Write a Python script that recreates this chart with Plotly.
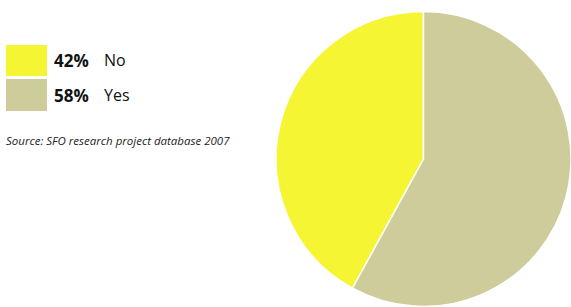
import plotly.graph_objects as go

labels = ["No", "Yes"]
values = [42, 58]
colors = ["#F5F533", "#CDCC9A"]
source = "Source: SFO research project database 2007"

W, H = 571, 307
yes_share = values[1] / sum(values)

fig = go.Figure()
fig.add_trace(go.Pie(
    labels=labels, values=values, sort=False, direction="clockwise",
    rotation=360 * yes_share, marker=dict(colors=colors, line=dict(color="white", width=1.5)),
    textinfo="none", hoverinfo="label+percent", showlegend=False,
    domain=dict(x=[276 / W, 1.0], y=[0, 296 / H]),
))

sw_x0, sw_x1 = 6, 47
rows = [(45, 76), (79, 111)]
for (y0, y1), lab, val, col in zip(rows, labels, values, colors):
    fig.add_shape(type="rect", xref="paper", yref="paper",
                  x0=sw_x0 / W, x1=sw_x1 / W, y0=1 - y1 / H, y1=1 - y0 / H,
                  fillcolor=col, line=dict(width=0), layer="above")
    yc = 1 - ((y0 + y1) / 2) / H
    fig.add_annotation(xref="paper", yref="paper", x=52 / W, y=yc,
                       xanchor="left", yanchor="middle", showarrow=False,
                       text=f"<b>{val}%</b>",
                       font=dict(family="Open Sans", size=17, color="#111"))
    fig.add_annotation(xref="paper", yref="paper", x=102 / W, y=yc,
                       xanchor="left", yanchor="middle", showarrow=False,
                       text=lab, font=dict(family="Open Sans", size=16, color="#111"))

fig.add_annotation(xref="paper", yref="paper", x=4 / W, y=1 - 140 / H,
                   xanchor="left", yanchor="middle", showarrow=False,
                   text=f"<i>{source}</i>",
                   font=dict(family="Open Sans", size=11.5, color="#222"))

fig.update_layout(width=W, height=H, margin=dict(l=0, r=0, t=0, b=0),
                  paper_bgcolor="white", plot_bgcolor="white")
fig.write_html("out.html", config={"displayModeBar": False},
               post_script="document.body.style.margin='0';document.body.style.overflow='hidden';")
